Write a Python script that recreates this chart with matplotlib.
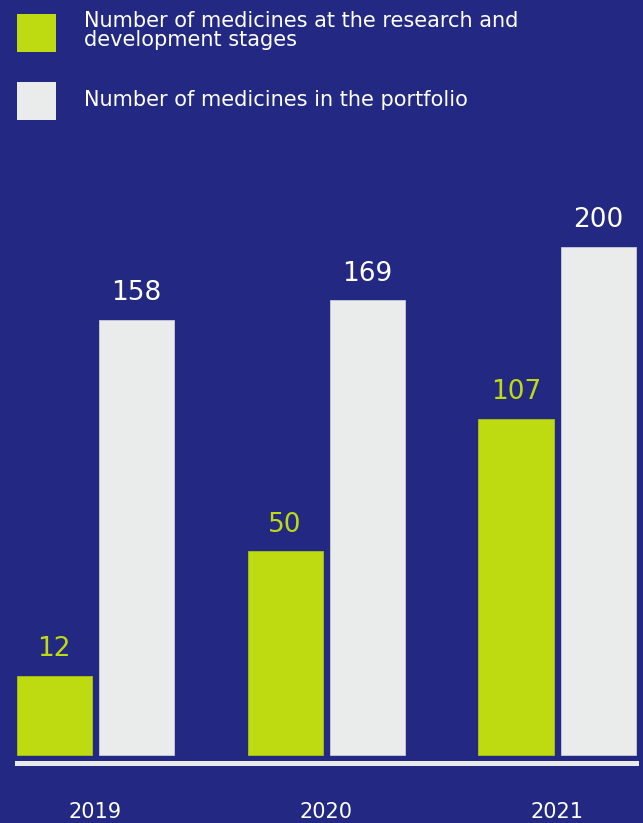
import numpy as np
import matplotlib.pyplot as plt
from matplotlib.lines import Line2D
from matplotlib.patches import Rectangle

years = ["2019", "2020", "2021"]
rnd = [12, 50, 107]          # medicines at R&D stages
portfolio = [158, 169, 200]  # medicines in the portfolio
legend_labels = ["Number of medicines at the research and\ndevelopment stages",
                 "Number of medicines in the portfolio"]

BG = "#232882"
GREEN = "#BEDA10"
GREY = "#EAECEC"

W, H = 643, 823
fig = plt.figure(figsize=(W / 100, H / 100), dpi=100, facecolor=BG)
ax = fig.add_axes([0, 0, 1, 1], facecolor=BG)

# the original bars are not linear in value; a power scale fits them well
p = 0.66
fwd = lambda y: np.sign(y) * np.abs(y) ** p
inv = lambda t: np.sign(t) * np.abs(t) ** (1 / p)
ax.set_yscale("function", functions=(fwd, inv))

px_per_t = 15.4
base_px = 755
ax.set_ylim(inv(-(H - base_px) / px_per_t), inv(base_px / px_per_t))

x = np.arange(len(years))
unit = 231.0
x0 = 95.0
ax.set_xlim(-x0 / unit, (W - x0) / unit)
bw = 75 / unit
off = 41 / unit

ax.bar(x - off, rnd, width=bw, color=GREEN, edgecolor="#A9C20E", linewidth=0.6)
ax.bar(x + off, portfolio, width=bw, color=GREY, edgecolor="#C9CCDA", linewidth=0.6)

for xi, v in zip(x, rnd):
    ax.annotate(str(v), (xi - off, v), xytext=(0, 14), textcoords="offset points",
                ha="center", va="baseline", fontsize=19, color=GREEN)
for xi, v in zip(x, portfolio):
    ax.annotate(str(v), (xi + off, v), xytext=(0, 14), textcoords="offset points",
                ha="center", va="baseline", fontsize=19, color="white")

ax.axis("off")

# baseline
fig.add_artist(Line2D([17 / W, 636 / W], [1 - 762.5 / H] * 2, lw=3.6, color="#E8EAEA"))

# year labels
for xi, yr in zip(x, years):
    px = x0 + xi * unit
    fig.text(px / W, 1 - 812 / H, yr, ha="center", va="center", fontsize=15, color="white")

# legend
fig.add_artist(Rectangle((17 / W, 1 - 52 / H), 39 / W, 38 / H, transform=fig.transFigure,
                         facecolor=GREEN, edgecolor="none"))
fig.add_artist(Rectangle((17 / W, 1 - 120 / H), 39 / W, 38 / H, transform=fig.transFigure,
                         facecolor=GREY, edgecolor="none"))
fig.text(84 / W, 1 - 11 / H, legend_labels[0], ha="left", va="top", fontsize=15,
         color="white", linespacing=0.92)
fig.text(84 / W, 1 - 100 / H, legend_labels[1], ha="left", va="center", fontsize=15,
         color="white")

fig.savefig("out.png", dpi=100, facecolor=BG)
